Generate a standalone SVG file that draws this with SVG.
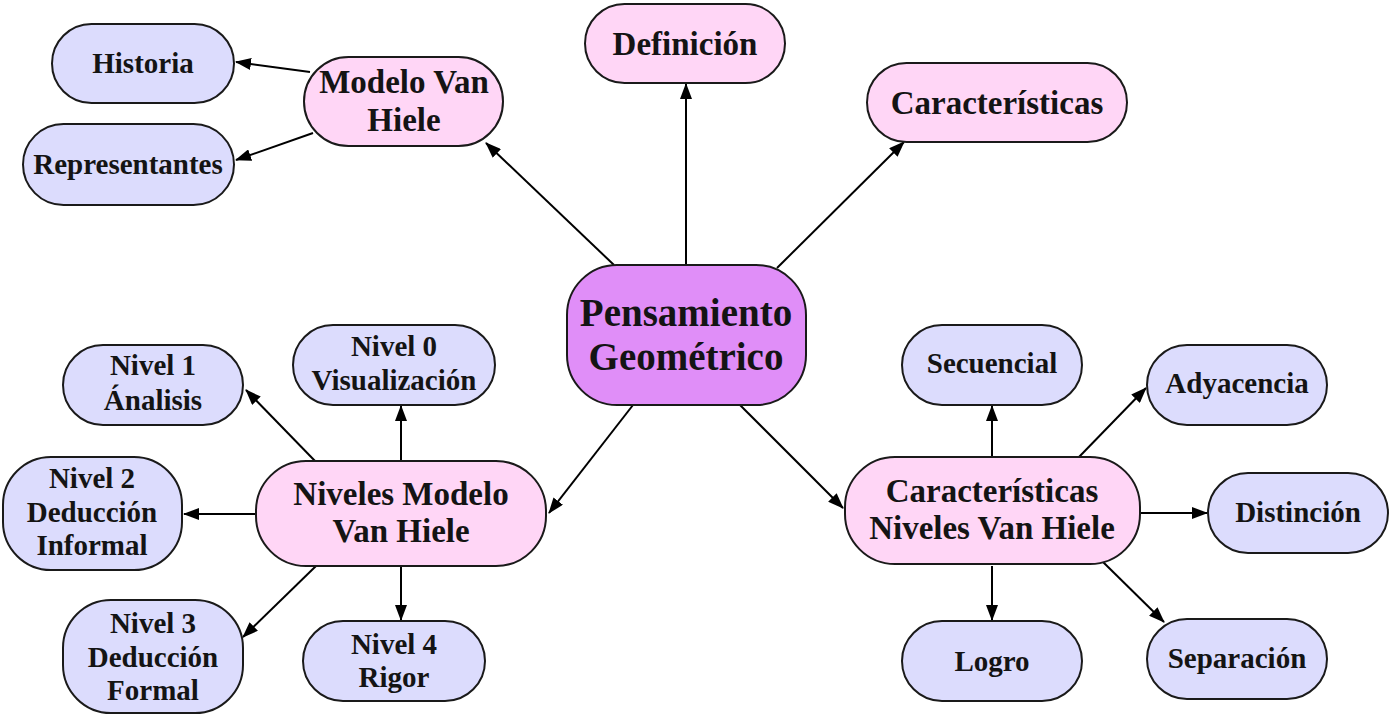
<svg xmlns="http://www.w3.org/2000/svg" width="1389" height="719" viewBox="0 0 1389 719">
<style>
.n{stroke:#1a1a1a;stroke-width:2}
.p{fill:#ffd6f6}
.l{fill:#dcdcfd}
.c{fill:#e08ef8}
text{font-family:"Liberation Serif","Times New Roman",serif;font-weight:bold;fill:#141414;text-anchor:middle}
.s{font-size:29px}
.m{font-size:33px}
.b{font-size:39px}
.e line{stroke:#000;stroke-width:2;marker-end:url(#a)}
</style>
<defs>
<marker id="a" markerWidth="16" markerHeight="12" refX="15" refY="6" orient="auto" markerUnits="userSpaceOnUse">
<path d="M0,0 L16,6 L0,12 Z" fill="#000"/>
</marker>
</defs>
<g class="e" id="connectors">
<line x1="614" y1="265" x2="486" y2="143"/>
<line x1="686" y1="265" x2="686" y2="84"/>
<line x1="777" y1="268" x2="904" y2="142"/>
<line x1="633" y1="405" x2="549" y2="513"/>
<line x1="740" y1="405" x2="843" y2="508"/>
<line x1="310" y1="72" x2="236" y2="62"/>
<line x1="313" y1="133" x2="236" y2="160"/>
<line x1="401" y1="461" x2="401" y2="406"/>
<line x1="316" y1="462" x2="246" y2="390"/>
<line x1="256" y1="514" x2="184" y2="514"/>
<line x1="316" y1="566" x2="243" y2="637"/>
<line x1="401" y1="566" x2="401" y2="620"/>
<line x1="992" y1="457" x2="992" y2="406"/>
<line x1="1079" y1="457" x2="1146" y2="388"/>
<line x1="1140" y1="513" x2="1207" y2="513"/>
<line x1="992" y1="566" x2="992" y2="620"/>
<line x1="1103" y1="562" x2="1164" y2="622"/>
</g>
<g id="pensamiento"><rect class="n c" x="567" y="265" width="239" height="140" rx="50"/><text class="b" x="686" y="326">Pensamiento</text><text class="b" x="686" y="370">Geométrico</text></g>
<g id="definicion"><rect class="n p" x="585" y="4" width="200" height="79" rx="39.5"/><text class="m" x="685" y="55">Definición</text></g>
<g id="caracteristicas"><rect class="n p" x="867" y="63" width="260" height="79" rx="39.5"/><text class="m" x="997" y="114">Características</text></g>
<g id="modelo"><rect class="n p" x="304" y="57" width="199" height="89" rx="44.5"/><text class="m" x="404" y="93">Modelo Van</text><text class="m" x="404" y="131">Hiele</text></g>
<g id="historia"><rect class="n l" x="52" y="24" width="182" height="79" rx="39.5"/><text class="s" x="143" y="73">Historia</text></g>
<g id="representantes"><rect class="n l" x="23" y="124" width="211" height="81" rx="40.5"/><text class="s" x="128" y="174">Representantes</text></g>
<g id="niveles"><rect class="n p" x="256" y="461" width="290" height="105" rx="50"/><text class="m" x="401" y="505">Niveles Modelo</text><text class="m" x="401" y="542">Van Hiele</text></g>
<g id="nivel0"><rect class="n l" x="293" y="325" width="202" height="80" rx="40"/><text class="s" x="394" y="356">Nivel 0</text><text class="s" x="394" y="390">Visualización</text></g>
<g id="nivel1"><rect class="n l" x="63" y="345" width="180" height="80" rx="40"/><text class="s" x="153" y="375">Nivel 1</text><text class="s" x="153" y="410">Ánalisis</text></g>
<g id="nivel2"><rect class="n l" x="3" y="457" width="179" height="113" rx="48"/><text class="s" x="92" y="488">Nivel 2</text><text class="s" x="92" y="522">Deducción</text><text class="s" x="92" y="555">Informal</text></g>
<g id="nivel3"><rect class="n l" x="63" y="600" width="180" height="113" rx="48"/><text class="s" x="153" y="633">Nivel 3</text><text class="s" x="153" y="667">Deducción</text><text class="s" x="153" y="700">Formal</text></g>
<g id="nivel4"><rect class="n l" x="303" y="621" width="182" height="80" rx="40"/><text class="s" x="394" y="654">Nivel 4</text><text class="s" x="394" y="687">Rigor</text></g>
<g id="caracniveles"><rect class="n p" x="845" y="457" width="295" height="107" rx="50"/><text class="m" x="992" y="502">Características</text><text class="m" x="992" y="539">Niveles Van Hiele</text></g>
<g id="secuencial"><rect class="n l" x="902" y="325" width="180" height="80" rx="40"/><text class="s" x="992" y="373">Secuencial</text></g>
<g id="adyacencia"><rect class="n l" x="1147" y="345" width="180" height="80" rx="40"/><text class="s" x="1237" y="393">Adyacencia</text></g>
<g id="distincion"><rect class="n l" x="1208" y="473" width="180" height="80" rx="40"/><text class="s" x="1298" y="522">Distinción</text></g>
<g id="logro"><rect class="n l" x="902" y="621" width="180" height="80" rx="40"/><text class="s" x="992" y="671">Logro</text></g>
<g id="separacion"><rect class="n l" x="1147" y="619" width="180" height="80" rx="40"/><text class="s" x="1237" y="668">Separación</text></g>
</svg>
